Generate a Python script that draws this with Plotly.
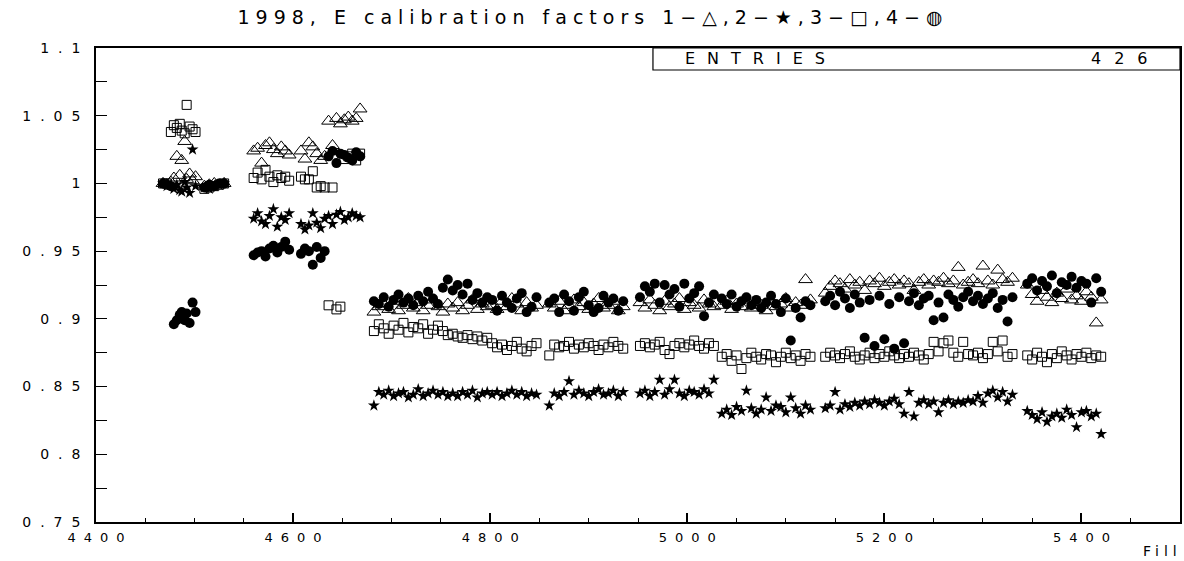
import plotly.graph_objects as go

# ---------------- data ----------------
fills = [
    4468, 4472, 4476, 4479, 4482, 4485, 4487, 4490, 4492, 4495, 4498, 4501, 4510, 4515, 4520, 4525, 4530,
    4560, 4564, 4568, 4572, 4576, 4580, 4584, 4588, 4592, 4596,
    4608, 4612, 4616, 4620, 4624, 4628, 4632, 4636, 4640, 4644, 4648, 4652, 4656, 4660, 4664, 4668,
    4682, 4687, 4692, 4697, 4702, 4707, 4712, 4717, 4722, 4727, 4732, 4737, 4742, 4747, 4752, 4757,
    4762, 4767, 4772, 4777, 4782, 4787, 4792, 4797,
    4802, 4807, 4812, 4817, 4822, 4827, 4832, 4837, 4842, 4847,
    4860, 4865, 4870, 4875, 4880, 4885, 4890, 4895, 4900, 4905, 4910, 4915, 4920, 4925, 4930, 4935,
    4952, 4957, 4962, 4967, 4972, 4977, 4982, 4987, 4992, 4997, 5002, 5007, 5012, 5017, 5022, 5027,
    5035, 5040, 5045, 5050, 5055, 5060, 5065, 5070, 5075, 5080, 5085, 5090, 5095, 5100, 5105, 5110, 5115, 5120, 5125,
    5140, 5145, 5150, 5155, 5160, 5165, 5170, 5175, 5180, 5185, 5190, 5195, 5200, 5205, 5210, 5215, 5220, 5225, 5230, 5235,
    5240, 5245, 5250, 5255, 5260, 5265, 5270, 5275, 5280, 5285, 5290, 5295, 5300, 5305, 5310, 5315, 5320, 5325, 5330,
    5345, 5350, 5355, 5360, 5365, 5370, 5375, 5380, 5385, 5390, 5395, 5400, 5405, 5410, 5415, 5420,
]

factor1_triangle = [
    1.000, 0.999, 1.001, 1.004, 1.020, 1.006, 1.017, 1.031, 1.003, 1.007, 1.002, 1.005, 0.998, 0.999, 1.000, 0.999, 1.000,
    1.024, 1.026, 1.015, 1.028, 1.030, 1.025, 1.022, 1.027, 1.024, 1.021,
    1.024, 1.018, 1.030, 1.027, 1.022, 1.017, 1.020, 1.046, 1.028, 1.048, 1.044, 1.047, 1.049, 1.046, 1.048, 1.055,
    0.905, 0.909, 0.911, 0.907, 0.913, 0.906, 0.910, 0.915, 0.908, 0.912, 0.906, 0.910, 0.914, 0.909, 0.905, 0.911,
    0.908, 0.912, 0.906, 0.910, 0.914, 0.907, 0.911, 0.909,
    0.910, 0.907, 0.913, 0.909, 0.915, 0.911, 0.906, 0.912, 0.908, 0.910,
    0.911, 0.908, 0.913, 0.906, 0.910, 0.914, 0.909, 0.912, 0.907, 0.911, 0.915, 0.908, 0.910, 0.913, 0.906, 0.909,
    0.912, 0.908, 0.914, 0.910, 0.906, 0.913, 0.909, 0.911, 0.915, 0.907, 0.912, 0.910, 0.908, 0.914, 0.911, 0.909,
    0.910, 0.913, 0.907, 0.911, 0.909, 0.914, 0.908, 0.912, 0.910, 0.906, 0.913, 0.909, 0.911, 0.915, 0.908, 0.912, 0.910, 0.929, 0.914,
    0.919, 0.924, 0.928, 0.926, 0.922, 0.929, 0.925, 0.927, 0.921, 0.928, 0.926, 0.930, 0.924, 0.927, 0.929, 0.925, 0.928, 0.926, 0.921, 0.927,
    0.929, 0.925, 0.928, 0.927, 0.930, 0.926, 0.928, 0.938, 0.925, 0.927, 0.929, 0.926, 0.939, 0.928, 0.925, 0.936, 0.929, 0.927, 0.930,
    0.925, 0.918, 0.913, 0.921, 0.916, 0.912, 0.919, 0.915, 0.922, 0.914, 0.917, 0.913, 0.920, 0.916, 0.897, 0.914,
]

factor2_star = [
    1.000, 0.998, 0.999, 0.996, 0.999, 0.995, 0.994, 1.001, 0.997, 0.993, 1.025, 0.998, 0.997, 0.996, 0.998, 0.999, 1.000,
    0.974, 0.978, 0.972, 0.970, 0.976, 0.981, 0.968, 0.975, 0.973, 0.978,
    0.970, 0.966, 0.969, 0.978, 0.971, 0.967, 0.974, 0.976, 0.970, 0.977, 0.979, 0.973, 0.975, 0.978, 0.976, 0.975,
    0.836, 0.846, 0.844, 0.847, 0.843, 0.845, 0.846, 0.842, 0.844, 0.848, 0.843, 0.845, 0.847, 0.844, 0.846, 0.843,
    0.845, 0.843, 0.846, 0.844, 0.847, 0.842, 0.845, 0.846,
    0.844, 0.846, 0.843, 0.845, 0.847, 0.844, 0.846, 0.843, 0.845, 0.844,
    0.836, 0.845, 0.843, 0.846, 0.854, 0.844, 0.847, 0.845, 0.843, 0.846, 0.848, 0.844, 0.845, 0.847, 0.843, 0.846,
    0.845, 0.847, 0.843, 0.846, 0.855, 0.844, 0.848, 0.855, 0.845, 0.843, 0.847, 0.846, 0.844, 0.848, 0.845, 0.855,
    0.830, 0.833, 0.829, 0.835, 0.832, 0.847, 0.834, 0.830, 0.833, 0.842, 0.832, 0.836, 0.835, 0.831, 0.842, 0.834, 0.830, 0.836, 0.833,
    0.834, 0.836, 0.846, 0.833, 0.837, 0.835, 0.838, 0.836, 0.839, 0.837, 0.840, 0.838, 0.836, 0.839, 0.841, 0.837, 0.830, 0.846, 0.828, 0.838,
    0.840, 0.837, 0.839, 0.831, 0.838, 0.840, 0.837, 0.839, 0.838, 0.840, 0.839, 0.843, 0.838, 0.845, 0.847, 0.842, 0.846, 0.839, 0.844,
    0.832, 0.829, 0.826, 0.831, 0.824, 0.828, 0.830, 0.827, 0.833, 0.829, 0.820, 0.831, 0.832, 0.828, 0.830, 0.815,
]

factor3_square = [
    1.000, 1.000, 1.038, 1.043, 1.041, 1.044, 1.039, 1.037, 1.058, 1.042, 1.040, 1.038, 0.996, 0.997, 0.998, 0.999, 1.000,
    1.004, 1.008, 1.003, 1.010, 1.005, 1.001, 1.006, 1.004, 1.005, 1.002,
    1.005, 1.003, 1.003, 1.009, 0.997, 0.998, 0.997, 0.910, 0.997, 0.907, 0.909, 1.018, 1.020, 1.022, 1.017, 1.022,
    0.891, 0.896, 0.893, 0.889, 0.895, 0.892, 0.897, 0.890, 0.894, 0.893, 0.896, 0.889, 0.892, 0.895, 0.891, 0.888,
    0.889, 0.887, 0.886, 0.888, 0.885, 0.887, 0.884, 0.886,
    0.882, 0.879, 0.881, 0.877, 0.880, 0.883, 0.878, 0.876, 0.880, 0.882,
    0.873, 0.881, 0.879, 0.880, 0.883, 0.878, 0.881, 0.879, 0.882, 0.880, 0.877, 0.881, 0.879, 0.883, 0.880, 0.878,
    0.880, 0.882, 0.879, 0.881, 0.883, 0.877, 0.874, 0.880, 0.882, 0.879, 0.881, 0.884, 0.880, 0.878, 0.882, 0.880,
    0.872, 0.874, 0.869, 0.873, 0.863, 0.871, 0.875, 0.872, 0.870, 0.874, 0.873, 0.868, 0.872, 0.875, 0.871, 0.873, 0.869, 0.874, 0.872,
    0.872, 0.875, 0.873, 0.871, 0.874, 0.876, 0.872, 0.870, 0.873, 0.875, 0.871, 0.874, 0.872, 0.876, 0.873, 0.871, 0.874, 0.872, 0.875, 0.873,
    0.870, 0.874, 0.883, 0.876, 0.882, 0.884, 0.875, 0.872, 0.883, 0.874, 0.873, 0.875, 0.871, 0.874, 0.883, 0.876, 0.884, 0.872, 0.874,
    0.873, 0.870, 0.875, 0.872, 0.868, 0.874, 0.871, 0.876, 0.873, 0.870, 0.874, 0.872, 0.875, 0.871, 0.873, 0.872,
]

factor4_circle = [
    1.000, 0.999, 0.998, 0.896, 0.899, 0.903, 0.905, 0.899, 0.904, 0.897, 0.912, 0.905, 0.997, 0.999, 0.998, 1.000, 1.000,
    0.947, 0.949, 0.950, 0.946, 0.952, 0.954, 0.949, 0.953, 0.957, 0.951,
    0.948, 0.952, 0.950, 0.940, 0.953, 0.945, 0.950, 1.020, 1.024, 1.015, 1.022, 1.021, 1.019, 1.017, 1.023, 1.020,
    0.913, 0.911, 0.916, 0.909, 0.914, 0.918, 0.912, 0.915, 0.910, 0.917, 0.913, 0.920, 0.915, 0.911, 0.923, 0.929,
    0.921, 0.925, 0.918, 0.926, 0.914, 0.919, 0.912, 0.916,
    0.914, 0.906, 0.917, 0.912, 0.908, 0.915, 0.919, 0.905, 0.909, 0.916,
    0.912, 0.915, 0.905, 0.918, 0.913, 0.906, 0.916, 0.920, 0.910, 0.905, 0.908, 0.917, 0.912, 0.915, 0.906, 0.913,
    0.916, 0.924, 0.920, 0.926, 0.912, 0.925, 0.918, 0.922, 0.909, 0.926, 0.915, 0.919, 0.924, 0.902, 0.912, 0.918,
    0.915, 0.911, 0.918, 0.909, 0.913, 0.916, 0.910, 0.914, 0.908, 0.912, 0.917, 0.911, 0.905, 0.915, 0.884, 0.908, 0.901, 0.913, 0.910,
    0.913, 0.917, 0.910, 0.920, 0.915, 0.908, 0.918, 0.912, 0.886, 0.914, 0.880, 0.917, 0.885, 0.911, 0.878, 0.916, 0.882, 0.913, 0.919, 0.910,
    0.915, 0.917, 0.899, 0.912, 0.901, 0.918, 0.914, 0.909, 0.916, 0.920, 0.913, 0.917, 0.911, 0.915, 0.919, 0.908, 0.914, 0.898, 0.916,
    0.926, 0.930, 0.921, 0.928, 0.924, 0.932, 0.919, 0.927, 0.925, 0.931, 0.923, 0.928, 0.926, 0.912, 0.930, 0.920,
]

y_tick_values = [0.75, 0.8, 0.85, 0.9, 0.95, 1.0, 1.05, 1.1]
y_tick_labels = ["0.75", "0.8", "0.85", "0.9", "0.95", "1", "1.05", "1.1"]
x_tick_values = [4400, 4600, 4800, 5000, 5200, 5400]
x_tick_labels = ["4400", "4600", "4800", "5000", "5200", "5400"]
entries = 426
title_text = "1998, E calibration factors 1\u2212\u25b3,2\u2212\u2605,3\u2212\u25a1,4\u2212\u25cd"


def spaced(text, px):
    """Wide letter spacing between characters (Hershey-like look), none after the last one."""
    if len(text) <= 1:
        return text
    return '<span style="letter-spacing:%dpx">%s</span>%s' % (px, text[:-1], text[-1])


# ---------------- figure ----------------
FONT = "DejaVu Sans"
fig = go.Figure()

fig.add_trace(go.Scatter(x=fills, y=factor3_square, mode="markers", name="3",
                         marker=dict(symbol="square-open", size=9, color="black",
                                     line=dict(width=1, color="black"))))
fig.add_trace(go.Scatter(x=fills, y=factor1_triangle, mode="markers", name="1",
                         marker=dict(symbol="triangle-up-open", size=12, color="black",
                                     line=dict(width=1, color="black"))))
fig.add_trace(go.Scatter(x=fills, y=factor2_star, mode="markers", name="2",
                         marker=dict(symbol="star", size=9, color="black",
                                     line=dict(width=0))))
fig.add_trace(go.Scatter(x=fills, y=factor4_circle, mode="markers", name="4",
                         marker=dict(symbol="circle", size=10, color="black",
                                     line=dict(width=0))))

title_html = ('<span style="letter-spacing:6px">' + title_text[:-1] + '</span>'
              '<span style="font-family:\'Noto Sans CJK SC\', \'DejaVu Sans\'">' + title_text[-1] + '</span>')

fig.update_layout(
    width=1184, height=561,
    margin=dict(l=96, r=4, t=48, b=39, autoexpand=False),
    paper_bgcolor="white", plot_bgcolor="white",
    showlegend=False,
    font=dict(family=FONT, color="black", size=15),
    title=dict(text=title_html,
               x=590 / 1184, xanchor="center", y=1 - 17 / 561, yanchor="middle",
               font=dict(family=FONT, size=19, color="black")),
    xaxis=dict(range=[4400, 5500], tickvals=x_tick_values,
               ticktext=[spaced(t, 8) for t in x_tick_labels],
               ticks="inside", ticklen=9, tickwidth=1.5, tickcolor="black",
               minor=dict(dtick=50, tick0=4400, ticks="inside", ticklen=4, tickwidth=1, tickcolor="black"),
               showline=True, linecolor="black", linewidth=1.5, mirror=True,
               showgrid=False, zeroline=False, tickfont=dict(size=13),
               ticklabelstandoff=3, automargin=False),
    yaxis=dict(range=[0.75, 1.1], tickvals=y_tick_values,
               ticktext=[spaced(t, 9) for t in y_tick_labels],
               ticks="inside", ticklen=11, tickwidth=1, tickcolor="black",
               minor=dict(dtick=0.025, tick0=0.75, ticks="inside", ticklen=11, tickwidth=1, tickcolor="black"),
               showline=True, linecolor="black", linewidth=1.5, mirror=True,
               showgrid=False, zeroline=False, tickfont=dict(size=14),
               ticklabelstandoff=11, automargin=False),
)

# statistics box
fig.add_shape(type="rect", xref="paper", yref="paper", x0=0.5138, x1=1.0, y0=0.9536, y1=1.0,
              line=dict(color="black", width=1.2), fillcolor="white", layer="above")
fig.add_annotation(xref="paper", yref="paper", x=(683 - 96) / 1084, y=0.9768, xanchor="left", yanchor="middle",
                   text=spaced("ENTRIES", 12), showarrow=False, font=dict(size=16))
fig.add_annotation(xref="paper", yref="paper", x=(1150 - 96) / 1084, y=0.9768, xanchor="right", yanchor="middle",
                   text=spaced(str(entries), 13), showarrow=False, font=dict(size=16))
# axis title
fig.add_annotation(xref="paper", yref="paper", x=(1179 - 96) / 1084, y=(522 - 551) / 474,
                   xanchor="right", yanchor="middle",
                   text=spaced("Fill", 5), showarrow=False, font=dict(size=14))

fig.write_html("out.html", config={"displayModeBar": False},
               post_script="document.body.style.margin='0px';")
